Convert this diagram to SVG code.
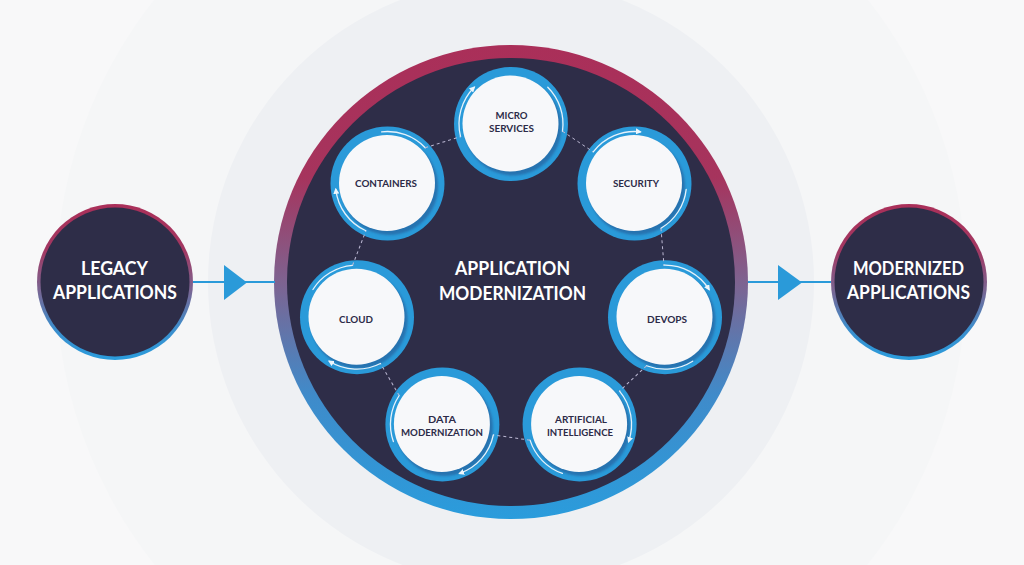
<svg xmlns="http://www.w3.org/2000/svg" width="1024" height="565" viewBox="0 0 1024 565">
  <style>
    .big-label { font-family: Lato, "Open Sans", "Liberation Sans", sans-serif; font-weight: 700; font-size: 18.5px; fill: #ffffff; text-anchor: middle; }
    .step-label { font-family: Lato, "Open Sans", "Liberation Sans", sans-serif; font-weight: 700; font-size: 10px; fill: #2c2b48; text-anchor: middle; }
    .step-ring { fill: #2a9ad9; }
    .step-shade { fill: #2873b0; }
    .step-face { fill: #f7f8fa; }
    .flow { fill: none; stroke: #e6f2fb; stroke-width: 1.3; stroke-linecap: round; }
    .link { fill: none; stroke: #bdb9d4; stroke-width: 1; stroke-dasharray: 3 3; }
    .feed { stroke: #2a9ad9; stroke-width: 2; fill: none; }
    .feed-head { fill: #2a9ad9; }
  </style>
  <defs>
    <linearGradient id="ringGrad" x1="0" y1="0" x2="0" y2="1">
      <stop offset="0" stop-color="#aa2f59"/>
      <stop offset="0.28" stop-color="#a6345d"/>
      <stop offset="0.5" stop-color="#7e6390"/>
      <stop offset="0.74" stop-color="#3f8bca"/>
      <stop offset="1" stop-color="#2a9cdc"/>
    </linearGradient>
    <linearGradient id="sideGrad" x1="0" y1="0" x2="0" y2="1">
      <stop offset="0" stop-color="#aa2f59"/>
      <stop offset="0.3" stop-color="#a23862"/>
      <stop offset="0.55" stop-color="#7a6592"/>
      <stop offset="0.8" stop-color="#3c8ecd"/>
      <stop offset="1" stop-color="#2a9cdc"/>
    </linearGradient>
    <filter id="soft" x="-20%" y="-20%" width="140%" height="140%">
      <feGaussianBlur stdDeviation="1.2"/>
    </filter>
    <marker id="tip" viewBox="0 0 6 6" refX="4.5" refY="3" markerWidth="6" markerHeight="6" markerUnits="userSpaceOnUse" orient="auto">
      <path d="M0,0 L6,3 L0,6 z" fill="#eef6fc"/>
    </marker>
    <!-- one step of the cycle: arcs around the top circle and the dashed hop to the next circle;
         rotated about the hub centre for the other six steps -->
    <g id="cycle-step">
      <path class="flow" d="M460.55,136.58 A52,52 0 0 1 474.23,87.23" marker-end="url(#tip)"/>
      <path class="flow" d="M547.77,87.23 A52,52 0 0 1 562.49,131.24"/>
      <line class="link" x1="562.49" y1="131.24" x2="593.2" y2="151.9"/>
    </g>
  </defs>

  <!-- backdrop -->
  <rect width="1024" height="565" fill="#f8f8f9"/>
  <circle cx="511" cy="282" r="455" fill="#f5f6f7"/>
  <circle cx="511" cy="282" r="303" fill="#eef0f3"/>

  <!-- hub -->
  <g id="application-modernization">
    <circle cx="511" cy="282" r="237" fill="url(#ringGrad)"/>
    <circle cx="511" cy="282" r="224" fill="#2e2d48"/>
    <text class="big-label" x="512.5" y="275" textLength="115" lengthAdjust="spacingAndGlyphs">APPLICATION</text>
    <text class="big-label" x="512.5" y="299.5" textLength="147" lengthAdjust="spacingAndGlyphs">MODERNIZATION</text>
  </g>

  <!-- input / output -->
  <g id="legacy-applications">
    <circle cx="115" cy="282" r="78" fill="url(#sideGrad)"/>
    <circle cx="115" cy="282" r="74.5" fill="#2e2d48"/>
    <text class="big-label" x="114.5" y="275" textLength="67" lengthAdjust="spacingAndGlyphs">LEGACY</text>
    <text class="big-label" x="115" y="299" textLength="124" lengthAdjust="spacingAndGlyphs">APPLICATIONS</text>
  </g>
  <g id="modernized-applications">
    <circle cx="909" cy="282" r="78" fill="url(#sideGrad)"/>
    <circle cx="909" cy="282" r="74.5" fill="#2e2d48"/>
    <text class="big-label" x="908.5" y="275" textLength="111" lengthAdjust="spacingAndGlyphs">MODERNIZED</text>
    <text class="big-label" x="908.5" y="299" textLength="123" lengthAdjust="spacingAndGlyphs">APPLICATIONS</text>
  </g>

  <!-- cycle steps -->
  <g id="micro-services">
    <circle class="step-ring" cx="511" cy="124" r="57"/>
    <circle class="step-shade" cx="513" cy="127" r="48.5" filter="url(#soft)"/>
    <circle class="step-face" cx="510.5" cy="123.5" r="48"/>
    <text class="step-label" x="511.5" y="118.5" textLength="32" lengthAdjust="spacingAndGlyphs">MICRO</text>
    <text class="step-label" x="511.5" y="131.5" textLength="45" lengthAdjust="spacingAndGlyphs">SERVICES</text>
  </g>
  <g id="security">
    <circle class="step-ring" cx="634.5" cy="183.5" r="57"/>
    <circle class="step-shade" cx="636.5" cy="186.5" r="48.5" filter="url(#soft)"/>
    <circle class="step-face" cx="634" cy="183" r="48"/>
    <text class="step-label" x="636" y="186.5" textLength="46" lengthAdjust="spacingAndGlyphs">SECURITY</text>
  </g>
  <g id="devops">
    <circle class="step-ring" cx="665" cy="317.2" r="57"/>
    <circle class="step-shade" cx="667" cy="320.2" r="48.5" filter="url(#soft)"/>
    <circle class="step-face" cx="664.5" cy="316.7" r="48"/>
    <text class="step-label" x="667" y="322.5" textLength="40" lengthAdjust="spacingAndGlyphs">DEVOPS</text>
  </g>
  <g id="artificial-intelligence">
    <circle class="step-ring" cx="579.6" cy="424.4" r="57"/>
    <circle class="step-shade" cx="581.6" cy="427.4" r="48.5" filter="url(#soft)"/>
    <circle class="step-face" cx="579.1" cy="423.9" r="48"/>
    <text class="step-label" x="581" y="422.5" textLength="52" lengthAdjust="spacingAndGlyphs">ARTIFICIAL</text>
    <text class="step-label" x="580" y="435.5" textLength="66" lengthAdjust="spacingAndGlyphs">INTELLIGENCE</text>
  </g>
  <g id="data-modernization">
    <circle class="step-ring" cx="442.4" cy="424.4" r="57"/>
    <circle class="step-shade" cx="444.4" cy="427.4" r="48.5" filter="url(#soft)"/>
    <circle class="step-face" cx="441.9" cy="423.9" r="48"/>
    <text class="step-label" x="442" y="422.5" textLength="28" lengthAdjust="spacingAndGlyphs">DATA</text>
    <text class="step-label" x="442" y="435.5" textLength="82" lengthAdjust="spacingAndGlyphs">MODERNIZATION</text>
  </g>
  <g id="cloud">
    <circle class="step-ring" cx="357" cy="317.2" r="57"/>
    <circle class="step-shade" cx="359" cy="320.2" r="48.5" filter="url(#soft)"/>
    <circle class="step-face" cx="356.5" cy="316.7" r="48"/>
    <text class="step-label" x="356" y="322.5" textLength="34" lengthAdjust="spacingAndGlyphs">CLOUD</text>
  </g>
  <g id="containers">
    <circle class="step-ring" cx="387.5" cy="183.5" r="57"/>
    <circle class="step-shade" cx="389.5" cy="186.5" r="48.5" filter="url(#soft)"/>
    <circle class="step-face" cx="387" cy="183" r="48"/>
    <text class="step-label" x="386" y="186.5" textLength="62" lengthAdjust="spacingAndGlyphs">CONTAINERS</text>
  </g>

  <!-- connectors -->
  <g id="connectors">
    <line class="feed" x1="193" y1="282" x2="275" y2="282"/>
    <path class="feed-head" d="M224,265 L247,282.5 L224,300 z"/>
    <line class="feed" x1="748" y1="282" x2="831" y2="282"/>
    <path class="feed-head" d="M778,265 L802,282.5 L778,300 z"/>
    <use href="#cycle-step"/>
    <use href="#cycle-step" transform="rotate(51.4286 511 282)"/>
    <use href="#cycle-step" transform="rotate(102.8571 511 282)"/>
    <use href="#cycle-step" transform="rotate(154.2857 511 282)"/>
    <use href="#cycle-step" transform="rotate(205.7143 511 282)"/>
    <use href="#cycle-step" transform="rotate(257.1429 511 282)"/>
    <use href="#cycle-step" transform="rotate(308.5714 511 282)"/>
  </g>
</svg>
